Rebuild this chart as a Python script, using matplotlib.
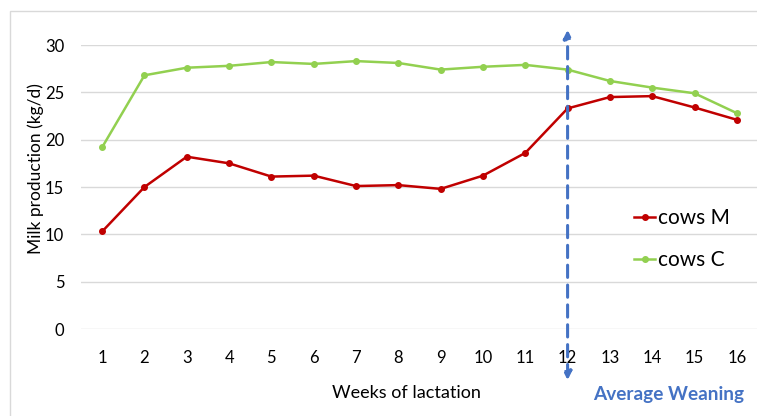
import matplotlib
matplotlib.use("Agg")
import matplotlib.pyplot as plt
from matplotlib.patches import Rectangle

plt.rcParams['font.family'] = ['Lato', 'DejaVu Sans']

weeks = list(range(1, 17))
week_labels = [str(w) for w in weeks]
cows_m = [10.3, 15.0, 18.2, 17.5, 16.1, 16.2, 15.1, 15.2, 14.8, 16.2, 18.6, 23.3, 24.5, 24.6, 23.4, 22.1]
cows_c = [19.2, 26.8, 27.6, 27.8, 28.2, 28.0, 28.3, 28.1, 27.4, 27.7, 27.9, 27.4, 26.2, 25.5, 24.9, 22.8]
y_ticks = [0, 5, 10, 15, 20, 25, 30]
weaning_week = 12

W, H = 757, 416
fig = plt.figure(figsize=(W / 100, H / 100), dpi=100)
fig.patch.set_facecolor('white')

# light chart-area border
fig.patches.append(Rectangle((10 / W, -0.1), 1.2, 1 - 11 / H + 0.1,
                             transform=fig.transFigure, fill=False,
                             edgecolor='#D9D9D9', linewidth=1.0, zorder=0))

ax = fig.add_axes([81 / W, (H - 329) / H, (758 - 81) / W, (329 - 45) / H])
ax.set_xlim(0.5, 16.5)
ax.set_ylim(0, 30)

ax.plot(weeks, cows_m, color='#C00000', linewidth=1.8, marker='o', markersize=4,
        label='cows M', zorder=3)
ax.plot(weeks, cows_c, color='#92D050', linewidth=1.8, marker='o', markersize=4,
        label='cows C', zorder=3)

ax.set_yticks(y_ticks)
ax.set_xticks(weeks)
ax.set_xticklabels(week_labels)
ax.yaxis.grid(True, color='#D9D9D9', linewidth=1.0)
ax.set_axisbelow(True)
for s in ax.spines.values():
    s.set_visible(False)
ax.tick_params(axis='both', length=0, labelsize=12, colors='#000000')
ax.tick_params(axis='y', pad=12)
ax.tick_params(axis='x', pad=15)

# axis titles
fig.text(36 / W, 1 - 169 / H, 'Milk production (kg/d)', rotation=90,
         fontsize=12.5, ha='center', va='center')
fig.text(406 / W, 1 - 393 / H, 'Weeks of lactation', fontsize=13,
         ha='center', va='center')

# weaning marker: dashed double-headed arrow
ax.annotate('', xy=(weaning_week, 31.6), xytext=(weaning_week, -5.4),
            xycoords='data', textcoords='data', annotation_clip=False,
            arrowprops=dict(arrowstyle='<|-|>', color='#4472C4', lw=2.2,
                            linestyle=(0, (4, 2.5)), mutation_scale=12,
                            shrinkA=0, shrinkB=0))
ax.text(14.4, -6.95, 'Average Weaning', color='#4472C4', fontsize=13.7,
        fontweight='bold', ha='center', va='center', clip_on=False)

leg = ax.legend(loc='upper left', bbox_to_anchor=((626 - 81) / (758 - 81), (329 - 200) / (329 - 45)),
                frameon=False, fontsize=15, handlelength=1.0, handletextpad=0.15,
                labelspacing=1.05, borderaxespad=0)

fig.savefig('out.png', dpi=100, facecolor='white')
